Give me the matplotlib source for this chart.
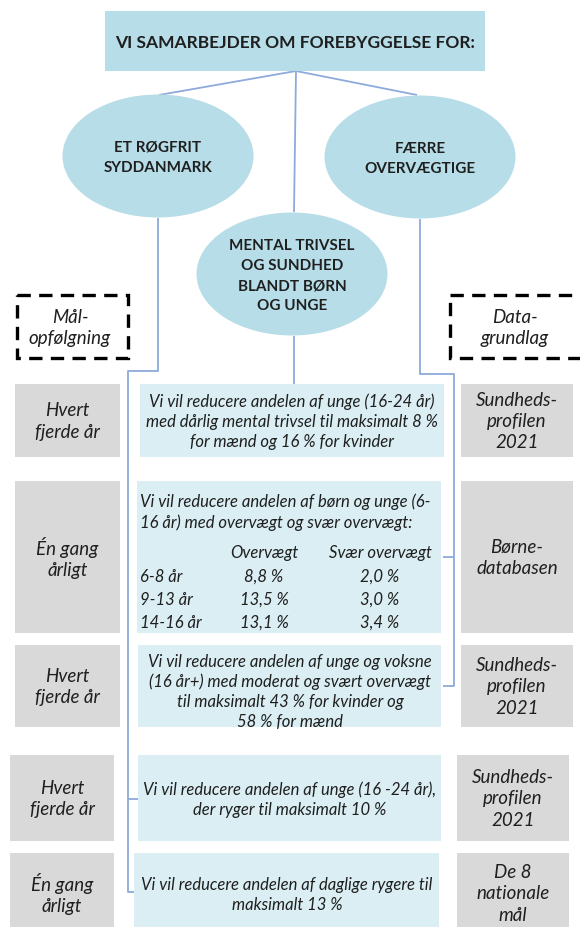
import matplotlib.pyplot as plt
from matplotlib.patches import Rectangle, Ellipse

plt.rcParams['font.family'] = ['Lato', 'DejaVu Sans']

# indhold
titel = 'VI SAMARBEJDER OM FOREBYGGELSE FOR:'
temaer = ['ET RØGFRIT\nSYDDANMARK', 'FÆRRE\nOVERVÆGTIGE', 'MENTAL TRIVSEL\nOG SUNDHED\nBLANDT BØRN\nOG UNGE']

maal = [
    'Vi vil reducere andelen af unge (16-24 år)\nmed dårlig mental trivsel til maksimalt 8 %\nfor mænd og 16 % for kvinder',
    'Vi vil reducere andelen af børn og unge (6-\n16 år) med overvægt og svær overvægt:',
    'Vi vil reducere andelen af unge og voksne\n(16 år+) med moderat og svært overvægt\ntil maksimalt 43 % for kvinder og\n58 % for mænd',
    'Vi vil reducere andelen af unge (16 -24 år),\nder ryger til maksimalt 10 %',
    'Vi vil reducere andelen af daglige rygere til\nmaksimalt 13 %',
]
opfoelgning = ['Hvert\nfjerde år', 'Én gang\nårligt', 'Hvert\nfjerde år', 'Hvert\nfjerde år', 'Én gang\nårligt']
datagrundlag = ['Sundheds-\nprofilen\n2021', 'Børne-\ndatabasen', 'Sundheds-\nprofilen\n2021',
                'Sundheds-\nprofilen\n2021', 'De 8\nnationale\nmål']

aldersgrupper = ['6-8 år', '9-13 år', '14-16 år']
overvaegt = ['8,8 %', '13,5 %', '13,1 %']
svaer_overvaegt = ['2,0 %', '3,0 %', '3,4 %']

# layout (pixels, y nedad)
raekker_y = [(385, 458), (482, 634), (646, 728), (756, 842), (854, 935)]
venstre_x = [(15, 120), (15, 120), (15, 120), (10, 114), (10, 114)]
midt_x = [(140, 444), (137, 441), (138, 441), (138, 441), (134, 439)]
hoejre_x = [(461, 573), (461, 573), (461, 573), (457, 569), (457, 569)]

LYSBLAA = '#b7dde8'
BOKSBLAA = '#daeef3'
GRAA = '#d9d9d9'
LINJE = '#8eaadb'
TEKST = '#1f1f1f'

fig = plt.figure(figsize=(5.8, 9.28), dpi=100)
ax = fig.add_axes([0, 0, 1, 1])
ax.set_xlim(0, 580)
ax.set_ylim(928, 0)
ax.axis('off')

# forbindelseslinjer
lk = dict(color=LINJE, lw=1.3, zorder=1, solid_capstyle='butt')
ax.plot([296, 159], [72, 96], **lk)
ax.plot([296, 417], [72, 96], **lk)
ax.plot([296, 294], [72, 213], **lk)
ax.plot([294, 294], [337, 385], **lk)
# venstre (røgfri)
ax.plot([158, 158, 128, 128, 138], [219, 372, 372, 893, 893], **lk)
ax.plot([128, 138], [800, 800], **lk)
# højre (overvægt)
ax.plot([420, 420, 454, 454, 443], [220, 375, 375, 687, 687], **lk)
ax.plot([454, 443], [558, 558], **lk)

# top boks
ax.add_patch(Rectangle((105, 12), 380, 60, facecolor=LYSBLAA, edgecolor='none', zorder=2))
ax.text(295, 43, titel, ha='center', va='center', fontsize=12.5, fontweight='bold', color=TEKST, zorder=3)

# ellipser
ellipse_pos = [(158, 157), (420, 158), (292, 275)]
for (cx, cy), tekst in zip(ellipse_pos, temaer):
    ax.add_patch(Ellipse((cx, cy), 191, 123, facecolor=LYSBLAA, edgecolor='none', zorder=2))
    ax.text(cx, cy + 1, tekst, ha='center', va='center', fontsize=11, fontweight='bold',
            color=TEKST, linespacing=1.55, zorder=3)

# stiplede overskriftsbokse
for x0, x1, tekst, tx in [(17, 128, 'Mål-\nopfølgning', 70), (450, 600, 'Data-\ngrundlag', 515)]:
    ax.add_patch(Rectangle((x0, 296), x1 - x0, 63, facecolor='none', edgecolor='black',
                           lw=2.4, linestyle=(0, (4, 2.5)), zorder=2, clip_on=False))
    ax.text(tx, 328, tekst, ha='center', va='center', fontsize=13.5, style='italic',
            color=TEKST, linespacing=1.25)

# rækker
for i in range(5):
    y0, y1 = raekker_y[i]
    cy = (y0 + y1) / 2
    for (x0, x1), farve in [(venstre_x[i], GRAA), (midt_x[i], BOKSBLAA), (hoejre_x[i], GRAA)]:
        ax.add_patch(Rectangle((x0, y0), x1 - x0, y1 - y0, facecolor=farve, edgecolor='none', zorder=2))
    lx = sum(venstre_x[i]) / 2
    rx = sum(hoejre_x[i]) / 2
    ty = min(cy, 894)
    ax.text(lx, ty, opfoelgning[i], ha='center', va='center', fontsize=13.5, style='italic',
            color=TEKST, linespacing=1.3, zorder=3)
    ax.text(rx, ty, datagrundlag[i], ha='center', va='center', fontsize=13.5, style='italic',
            color=TEKST, linespacing=1.3, zorder=3)

# midterbokse tekst
mk = dict(fontsize=12, style='italic', color=TEKST, linespacing=1.3, zorder=3)
ax.text(292, 422, maal[0], ha='center', va='center', **mk)
ax.text(140, 512, maal[1], ha='left', va='center', **mk)
ax.text(264, 553, 'Overvægt', ha='center', va='center', **mk)
ax.text(380, 553, 'Svær overvægt', ha='center', va='center', **mk)
for j, (alder, ov, sv) in enumerate(zip(aldersgrupper, overvaegt, svaer_overvaegt)):
    yy = 577 + j * 23
    ax.text(140, yy, alder, ha='left', va='center', **mk)
    ax.text(264, yy, ov, ha='center', va='center', **mk)
    ax.text(380, yy, sv, ha='center', va='center', **mk)
ax.text(290, 692, maal[2], ha='center', va='center', **mk)
ax.text(290, 800, maal[3], ha='center', va='center', **mk)
ax.text(287, 895, maal[4], ha='center', va='center', **mk)

fig.savefig('out.png', dpi=100)
